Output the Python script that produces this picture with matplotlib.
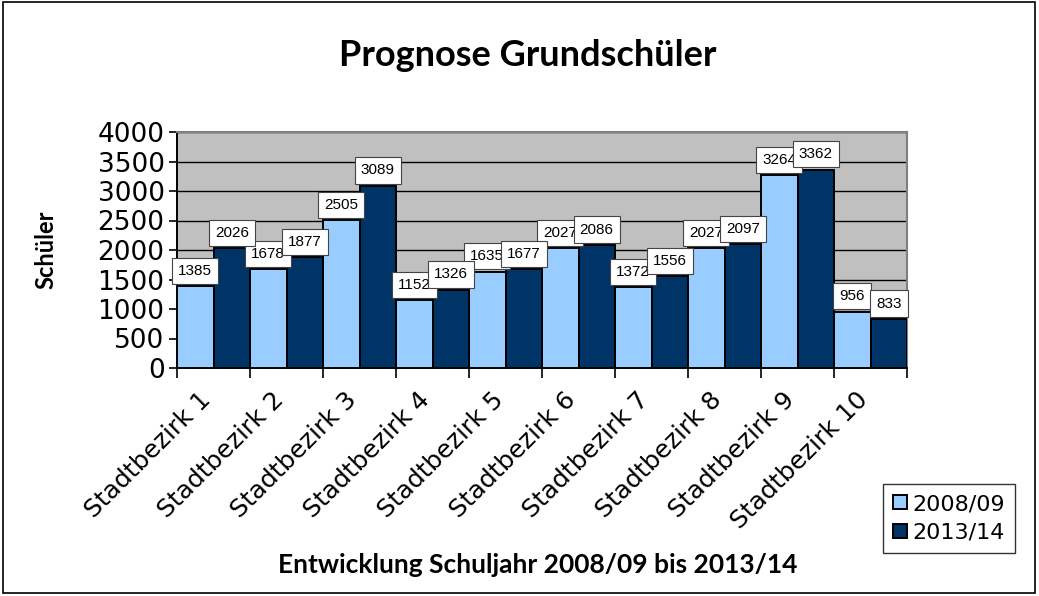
import matplotlib.pyplot as plt
import numpy as np

categories = ["Stadtbezirk 1", "Stadtbezirk 2", "Stadtbezirk 3", "Stadtbezirk 4", "Stadtbezirk 5",
              "Stadtbezirk 6", "Stadtbezirk 7", "Stadtbezirk 8", "Stadtbezirk 9", "Stadtbezirk 10"]
values_0809 = [1385, 1678, 2505, 1152, 1635, 2027, 1372, 2027, 3264, 956]
values_1314 = [2026, 1877, 3089, 1326, 1677, 2086, 1556, 2097, 3362, 833]
yticks = [0, 500, 1000, 1500, 2000, 2500, 3000, 3500, 4000]

fig = plt.figure(figsize=(10.39, 5.96), dpi=100)
ax = fig.add_axes([177 / 1039, 1 - 368 / 596, 730 / 1039, 236 / 596])
ax.set_facecolor("#c0c0c0")

x = np.arange(len(categories))
w = 0.5
b1 = ax.bar(x - w / 2, values_0809, w, color="#99ccff", edgecolor="black", linewidth=1.4,
            label="2008/09", zorder=3)
b2 = ax.bar(x + w / 2, values_1314, w, color="#003366", edgecolor="black", linewidth=1.4,
            label="2013/14", zorder=3)

for bars, vals in ((b1, values_0809), (b2, values_1314)):
    for bar, v in zip(bars, vals):
        ax.annotate(str(v), (bar.get_x() + bar.get_width() / 2, v), xytext=(0, 6),
                    textcoords="offset points", ha="center", va="bottom", fontsize=11,
                    family="Liberation Sans", zorder=5,
                    bbox=dict(boxstyle="square,pad=0.4", fc="white", ec="#444444", lw=0.8))

ax.set_xlim(-0.5, len(categories) - 0.5)
ax.set_ylim(0, 4000)
ax.set_yticks(yticks)
ax.set_yticklabels([str(t) for t in yticks], fontsize=19, family="DejaVu Sans")
ax.yaxis.grid(True, color="black", linewidth=1, zorder=1)
ax.set_axisbelow(True)

# category boundaries get the tick marks, labels sit a little left of the centres
ax.set_xticks(np.arange(len(categories) + 1) - 0.5)
ax.set_xticklabels([])
ax.set_xticks(x - 0.2, minor=True)
ax.set_xticklabels(categories, minor=True, rotation=45, ha="right", va="top",
                   rotation_mode="anchor", fontsize=18, family="DejaVu Sans")
ax.tick_params(axis="x", which="minor", length=0, pad=14)
ax.tick_params(axis="x", which="major", length=7, width=1.2)
ax.tick_params(axis="y", length=6, width=1.2, pad=3)

for s in ("top", "right"):
    ax.spines[s].set_color("#808080")
    ax.spines[s].set_linewidth(1.5)
ax.spines["left"].set_linewidth(1.4)
ax.spines["bottom"].set_linewidth(1.4)

ax.set_ylabel("Schüler", fontsize=17, fontweight="bold", family="Lato")
ax.yaxis.set_label_coords((57 - 177) / 730, 0.5)
fig.text(538 / 1039, 1 - 565 / 596, "Entwicklung Schuljahr 2008/09 bis 2013/14",
         ha="center", va="center", fontsize=19, fontweight="bold", family="Lato")
fig.text(528 / 1039, 1 - 56 / 596, "Prognose Grundschüler", ha="center", va="center",
         fontsize=26, fontweight="bold", family="Lato")

leg = fig.legend(loc="lower right", bbox_to_anchor=(1015 / 1039, 1 - 553 / 596),
                 prop={"family": "DejaVu Sans", "size": 16}, frameon=True, fancybox=False,
                 edgecolor="black", handlelength=0.6, handleheight=0.6, handletextpad=0.25,
                 borderpad=0.45, labelspacing=0.4, borderaxespad=0)
leg.get_frame().set_linewidth(1)

fig.patches.append(plt.Rectangle((3 / 1039, 3 / 596), 1032 / 1039, 591 / 596, fill=False,
                                 ec="black", lw=1.2, transform=fig.transFigure))

plt.savefig("out.png", dpi=100)
plt.close()
